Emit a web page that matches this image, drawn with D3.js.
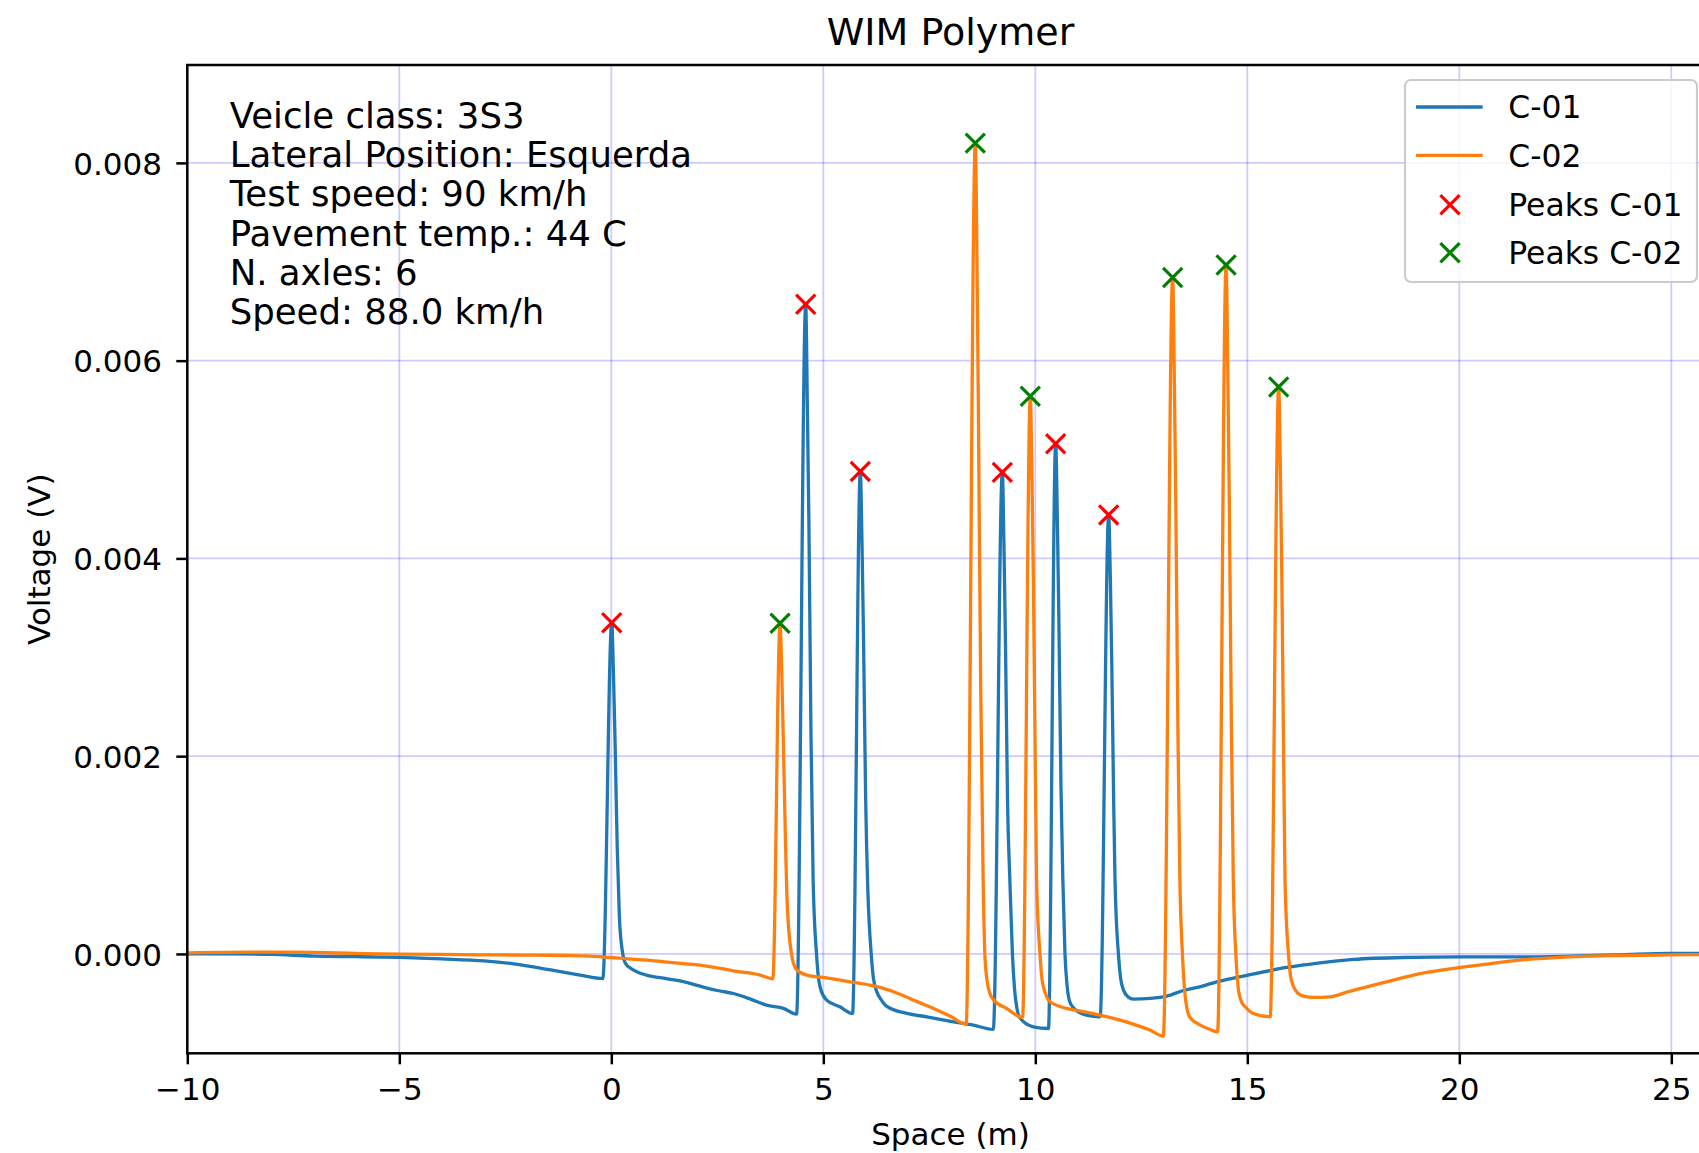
<!DOCTYPE html>
<html>
<head>
<meta charset="utf-8">
<script src="https://cdn.jsdelivr.net/npm/d3@7"></script>
<style>
  html, body { margin: 0; padding: 0; background: #ffffff; }
  svg { display: block; font-family: "DejaVu Sans", sans-serif; }
</style>
</head>
<body>
<svg id="chart" width="1699" height="1153"></svg>
<script>
// ---------------- DATA ----------------
const chartTitle = "WIM Polymer";
const xLabel = "Space (m)";
const yLabel = "Voltage (V)";
const infoLines = [
  "Veicle class: 3S3",
  "Lateral Position: Esquerda",
  "Test speed: 90 km/h",
  "Pavement temp.: 44 C",
  "N. axles: 6",
  "Speed: 88.0 km/h"
];
const seriesNames = ["C-01", "C-02", "Peaks C-01", "Peaks C-02"];
const xTicks = [-10, -5, 0, 5, 10, 15, 20, 25];
const yTicks = [0, 0.002, 0.004, 0.006, 0.008];

// C-01 signal: [space (m), voltage (V)]
const c01Points = [
  [-10, 0.0], [-9, 0.000002], [-8, -0.000005], [-7, -0.000022], [-6, -0.000028],
  [-5, -0.000035], [-4, -0.00005], [-3, -0.00007], [-2.3, -0.0001], [-1.7, -0.00014],
  [-1.2, -0.00018], [-0.74, -0.000214], [-0.2, -0.00025],
  [0.01, 0.00335], [0.05, 0.00285], [0.09, 0.00212], [0.14, 0.00108], [0.19, 0.00038],
  [0.26, 0.00003], [0.30, -0.00006], [0.36, -0.00011], [0.44, -0.00014], [0.6, -0.00018],
  [0.83, -0.000214], [1.3, -0.00025],
  [1.7, -0.00028], [2.09, -0.000326], [2.5, -0.00037], [2.88, -0.0004], [3.3, -0.00046],
  [3.66, -0.000518], [4.06, -0.000551], [4.37, -0.000609],
  [4.585, 0.00657], [4.625, 0.0055], [4.66, 0.00438], [4.71, 0.0022], [4.76, 0.00075],
  [4.84, 0.0], [4.88, -0.00022], [4.94, -0.00036], [5.08, -0.000467], [5.39, -0.000535], [5.69, -0.000602],
  [5.873, 0.00488], [5.913, 0.00415], [5.948, 0.00321], [5.998, 0.00159], [6.05, 0.00065],
  [6.13, 0.0], [6.18, -0.00024], [6.26, -0.00038], [6.36, -0.00046], [6.49, -0.000528], [6.97, -0.000602],
  [7.44, -0.000636], [8.07, -0.000686], [8.54, -0.00072], [9.01, -0.000764],
  [9.222, 0.00487], [9.262, 0.0041], [9.297, 0.00313], [9.347, 0.00150], [9.40, 0.00075],
  [9.46, 0.0], [9.51, -0.00035], [9.57, -0.00056], [9.64, -0.000649], [9.95, -0.000737], [10.31, -0.000754],
  [10.48, 0.00516], [10.52, 0.0044], [10.555, 0.0034], [10.605, 0.0017], [10.65, 0.00075],
  [10.70, 0.0], [10.75, -0.00032], [10.81, -0.00048], [10.90, -0.000545], [11.21, -0.000619], [11.53, -0.000636],
  [11.73, 0.00444], [11.77, 0.0038], [11.805, 0.0029], [11.85, 0.0015], [11.88, 0.00075],
  [11.96, 0.0], [12.01, -0.00024], [12.08, -0.000366], [12.2, -0.00044], [12.31, -0.000457], [12.71, -0.00045],
  [13.10, -0.000427], [13.49, -0.00037], [13.9, -0.00033], [14.28, -0.000282], [15.02, -0.000214],
  [15.93, -0.000137], [16.71, -0.00009], [17.5, -0.000056], [18.68, -0.000036], [20.02, -0.00003],
  [21.43, -0.00003], [22.61, -0.000022], [23.79, -0.000009], [24.97, 0.000005], [26, 0.000005]
];

// C-02 signal: [space (m), voltage (V)]
const c02Points = [
  [-10, 0.000011], [-9.3, 0.000015], [-8.6, 0.000018], [-7.8, 0.000018], [-7.03, 0.000015],
  [-6, 0.000005], [-5, -0.000002], [-4, -0.000005], [-3.1, -0.000009], [-2, -0.000012],
  [-1.13, -0.000016], [-0.5, -0.000022], [-0.03, -0.000036], [0.4, -0.00005], [0.83, -0.000063],
  [1.5, -0.00009], [2.09, -0.000113], [2.5, -0.00014], [2.88, -0.000171], [3.2, -0.00019],
  [3.51, -0.000214], [3.81, -0.000251],
  [3.98, 0.003345], [4.02, 0.00285], [4.055, 0.0022], [4.105, 0.0012], [4.15, 0.0005],
  [4.25, 0.0], [4.3, -0.0001], [4.37, -0.00016], [4.61, -0.000214], [5.0, -0.000238], [5.63, -0.000282],
  [6.34, -0.000339], [6.81, -0.000407], [7.2, -0.00048], [7.60, -0.000551], [8.0, -0.00063],
  [8.37, -0.00071],
  [8.585, 0.0082], [8.625, 0.0070], [8.66, 0.0054], [8.71, 0.0028], [8.77, 0.00075],
  [8.81, 0.0], [8.86, -0.00026], [8.93, -0.0004], [9.01, -0.00046], [9.32, -0.000551], [9.70, -0.000642],
  [9.882, 0.00564], [9.922, 0.0048], [9.957, 0.0037], [10.0, 0.0019], [10.03, 0.00075],
  [10.11, 0.0], [10.16, -0.00026], [10.24, -0.0004], [10.35, -0.000484], [10.74, -0.000551], [11.1, -0.00058],
  [11.53, -0.000619], [12.0, -0.00067], [12.31, -0.00071], [12.7, -0.00077], [13.02, -0.000831],
  [13.24, 0.00684], [13.28, 0.0058], [13.315, 0.0045], [13.365, 0.0022], [13.41, 0.00075],
  [13.47, 0.0], [13.52, -0.00036], [13.58, -0.00056], [13.65, -0.000643], [13.89, -0.00072], [14.1, -0.00076],
  [14.30, -0.000787],
  [14.50, 0.006968], [14.54, 0.0059], [14.575, 0.0046], [14.625, 0.0023], [14.67, 0.00075],
  [14.73, 0.0], [14.78, -0.00032], [14.85, -0.00047], [14.95, -0.000535], [15.14, -0.000602], [15.54, -0.000636],
  [15.74, 0.005734], [15.78, 0.0049], [15.815, 0.0038], [15.86, 0.0019], [15.89, 0.00075],
  [15.97, 0.0], [16.02, -0.00022], [16.09, -0.00033], [16.2, -0.0004], [16.35, -0.00043], [16.56, -0.00044],
  [16.95, -0.000434], [17.4, -0.00038], [17.89, -0.000326], [18.4, -0.00027], [18.92, -0.000214],
  [19.5, -0.00017], [20.02, -0.000137], [20.7, -0.0001], [21.43, -0.000063], [22.61, -0.00003],
  [23.79, -0.000016], [25.03, -0.000009], [26, -0.000005]
];

// Detected peaks
const peaksC01 = [
  [0.01, 0.00335], [4.585, 0.00657], [5.873, 0.00488], [9.222, 0.00487], [10.48, 0.00516], [11.73, 0.00444]
];
const peaksC02 = [
  [3.98, 0.003345], [8.585, 0.0082], [9.882, 0.00564], [13.24, 0.00684], [14.50, 0.006968], [15.74, 0.005734]
];

// ---------------- LAYOUT / STYLE ----------------
const W = 1699, H = 1153;
const pL = 187.3, pR = 1713.7, pT = 65, pB = 1053.3;
const colC01 = "#1f77b4", colC02 = "#ff7f0e", colPk1 = "#ff0000", colPk2 = "#008000";
const tickFont = 31, labelFont = 31, titleFont = 38, infoFont = 35.5, legendFont = 31.4;
const lineW = 3.3, markR = 9.6, markW = 3.2;

const svg = d3.select("#chart");
svg.append("rect").attr("width", W).attr("height", H).attr("fill", "#ffffff");

const x = d3.scaleLinear().domain([-10, 26]).range([pL, pR]);
const y = d3.scaleLinear().domain([-0.001005, 0.00899]).range([pB, pT]);

svg.append("defs").append("clipPath").attr("id", "plotclip")
  .append("rect").attr("x", pL).attr("y", pT).attr("width", pR - pL).attr("height", pB - pT);

// grid
const grid = svg.append("g");
grid.selectAll("line.gx").data(xTicks).join("line").attr("class", "gx")
  .attr("x1", d => x(d)).attr("x2", d => x(d)).attr("y1", pT).attr("y2", pB)
  .attr("stroke", "#0000ff").attr("stroke-opacity", 0.2).attr("stroke-width", 1.8);
grid.selectAll("line.gy").data(yTicks).join("line").attr("class", "gy")
  .attr("y1", d => y(d)).attr("y2", d => y(d)).attr("x1", pL).attr("x2", pR)
  .attr("stroke", "#0000ff").attr("stroke-opacity", 0.2).attr("stroke-width", 1.8);

// lines
const plot = svg.append("g").attr("clip-path", "url(#plotclip)");
const line = d3.line().x(d => x(d[0])).y(d => y(d[1])).curve(d3.curveMonotoneX);
plot.append("path").datum(c01Points).attr("d", line)
  .attr("fill", "none").attr("stroke", colC01).attr("stroke-width", lineW).attr("stroke-linejoin", "round");
plot.append("path").datum(c02Points).attr("d", line)
  .attr("fill", "none").attr("stroke", colC02).attr("stroke-width", lineW).attr("stroke-linejoin", "round");

// x markers
function drawX(g, cx, cy, color, r) {
  g.append("line").attr("x1", cx - r).attr("y1", cy - r).attr("x2", cx + r).attr("y2", cy + r)
    .attr("stroke", color).attr("stroke-width", markW);
  g.append("line").attr("x1", cx - r).attr("y1", cy + r).attr("x2", cx + r).attr("y2", cy - r)
    .attr("stroke", color).attr("stroke-width", markW);
}
const mk = svg.append("g");
peaksC01.forEach(p => drawX(mk, x(p[0]), y(p[1]), colPk1, markR));
peaksC02.forEach(p => drawX(mk, x(p[0]), y(p[1]), colPk2, markR));

// axes
const fmtX = d => d < 0 ? "\u2212" + Math.abs(d) : String(d);
const xAxis = svg.append("g").attr("transform", `translate(0,${pB})`)
  .call(d3.axisBottom(x).tickValues(xTicks).tickFormat(fmtX).tickSize(11).tickSizeOuter(0));
xAxis.select(".domain").remove();
xAxis.selectAll(".tick line").attr("stroke", "#000").attr("stroke-width", 2.5);
xAxis.selectAll(".tick text").attr("y", 46.7).attr("dy", null)
  .attr("font-size", tickFont).attr("font-family", "DejaVu Sans").attr("fill", "#000");

const yAxis = svg.append("g").attr("transform", `translate(${pL},0)`)
  .call(d3.axisLeft(y).tickValues(yTicks).tickFormat(d3.format(".3f")).tickSize(11).tickSizeOuter(0));
yAxis.select(".domain").remove();
yAxis.selectAll(".tick line").attr("stroke", "#000").attr("stroke-width", 2.5);
yAxis.selectAll(".tick text").attr("x", -(pL - 162)).attr("dy", "0.36em")
  .attr("font-size", tickFont).attr("font-family", "DejaVu Sans").attr("fill", "#000");

// spines
svg.append("rect").attr("x", pL).attr("y", pT).attr("width", pR - pL).attr("height", pB - pT)
  .attr("fill", "none").attr("stroke", "#000").attr("stroke-width", 2.5);

// title & labels
svg.append("text").attr("x", (pL + pR) / 2).attr("y", 45).attr("text-anchor", "middle")
  .attr("font-size", titleFont).attr("fill", "#000").text(chartTitle);
svg.append("text").attr("x", (pL + pR) / 2).attr("y", 1145).attr("text-anchor", "middle")
  .attr("font-size", labelFont).attr("fill", "#000").text(xLabel);
svg.append("text").attr("transform", `translate(50,${(pT + pB) / 2}) rotate(-90)`)
  .attr("text-anchor", "middle").attr("font-size", labelFont).attr("fill", "#000").text(yLabel);

// info text
const info = svg.append("g");
infoLines.forEach((t, i) => {
  info.append("text").attr("x", 229.7).attr("y", 127.7 + i * 39.3)
    .attr("font-size", infoFont).attr("fill", "#000").text(t);
});

// legend
const lg = svg.append("g");
lg.append("rect").attr("x", 1405).attr("y", 80).attr("width", 292).attr("height", 202)
  .attr("rx", 6).attr("ry", 6).attr("fill", "#ffffff").attr("fill-opacity", 0.8)
  .attr("stroke", "#cccccc").attr("stroke-width", 2.2);
const rowBase = [118.3, 166.7, 216, 264];
const rowMid = rowBase.map(b => b - 11.3);
lg.append("line").attr("x1", 1416).attr("x2", 1482.7).attr("y1", rowMid[0]).attr("y2", rowMid[0])
  .attr("stroke", colC01).attr("stroke-width", lineW);
lg.append("line").attr("x1", 1416).attr("x2", 1482.7).attr("y1", rowMid[1]).attr("y2", rowMid[1])
  .attr("stroke", colC02).attr("stroke-width", lineW);
drawX(lg, 1450, rowMid[2], colPk1, markR);
drawX(lg, 1450, rowMid[3], colPk2, markR);
seriesNames.forEach((n, i) => {
  lg.append("text").attr("x", 1508.3).attr("y", rowBase[i]).attr("font-size", legendFont)
    .attr("fill", "#000").text(n);
});
</script>
</body>
</html>
